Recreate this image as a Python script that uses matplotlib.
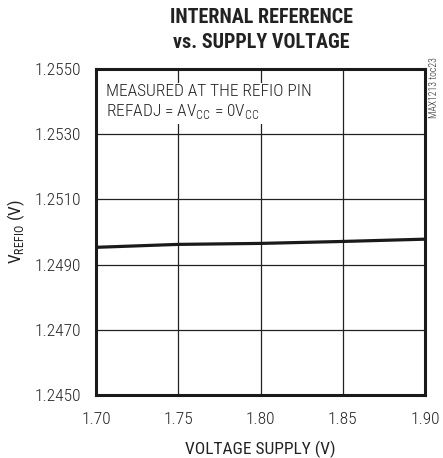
import matplotlib as mpl
mpl.use('Agg')
import matplotlib.pyplot as plt

plt.rcParams['font.family'] = ['Roboto Condensed', 'DejaVu Sans']
plt.rcParams['font.weight'] = 'light'

# data
supply_v = [1.70, 1.75, 1.80, 1.85, 1.90]
v_refio = [1.24953, 1.24962, 1.24965, 1.24971, 1.24978]

x_ticks = [1.70, 1.75, 1.80, 1.85, 1.90]
x_labels = ['1.70', '1.75', '1.80', '1.85', '1.90']
y_ticks = [1.2450, 1.2470, 1.2490, 1.2510, 1.2530, 1.2550]
y_labels = ['1.2450', '1.2470', '1.2490', '1.2510', '1.2530', '1.2550']

fig = plt.figure(figsize=(4.43, 4.58), dpi=100)
ax = fig.add_axes([96/443, 1 - 395/458, 329/443, 326/458])

ax.plot(supply_v, v_refio, color='#1a1a1a', lw=2.3, zorder=3)

ax.set_xlim(1.70, 1.90)
ax.set_ylim(1.2450, 1.2550)
ax.set_xticks(x_ticks)
ax.set_xticklabels(x_labels)
ax.set_yticks(y_ticks)
ax.set_yticklabels(y_labels)
ax.tick_params(length=0, labelsize=12.5, colors='#222222')
ax.tick_params(axis='x', pad=12)
ax.tick_params(axis='y', pad=11)
ax.grid(True, color='#222222', lw=0.9)
ax.set_axisbelow(True)
for s in ax.spines.values():
    s.set_linewidth(2.2)
    s.set_color('#1a1a1a')

ax.set_xlabel('VOLTAGE SUPPLY (V)', fontsize=12.5, color='#222222', labelpad=10)
ax.set_ylabel(r'V$_{\mathregular{REFIO}}$ (V)', fontsize=12.5, color='#222222', labelpad=5)

ax.text(0.03, 0.955,
        'MEASURED AT THE REFIO PIN\n' + r'REFADJ = AV$_{\mathregular{CC}}$ = 0V$_{\mathregular{CC}}$',
        transform=ax.transAxes, ha='left', va='top', fontsize=12.5, color='#222222',
        linespacing=1.25,
        bbox=dict(facecolor='white', edgecolor='none', pad=2), zorder=2)

fig.text(261/443, 1 - 30/458, 'INTERNAL REFERENCE\nvs. SUPPLY VOLTAGE',
         ha='center', va='center', fontsize=14.5, fontweight='bold', color='#222222',
         linespacing=1.4)

fig.text(434/443, 1 - 88/458, 'MAX1213 toc23', rotation=90, ha='center', va='center',
         fontsize=7, color='#222222')

plt.savefig('out.png', dpi=100)
plt.close()
